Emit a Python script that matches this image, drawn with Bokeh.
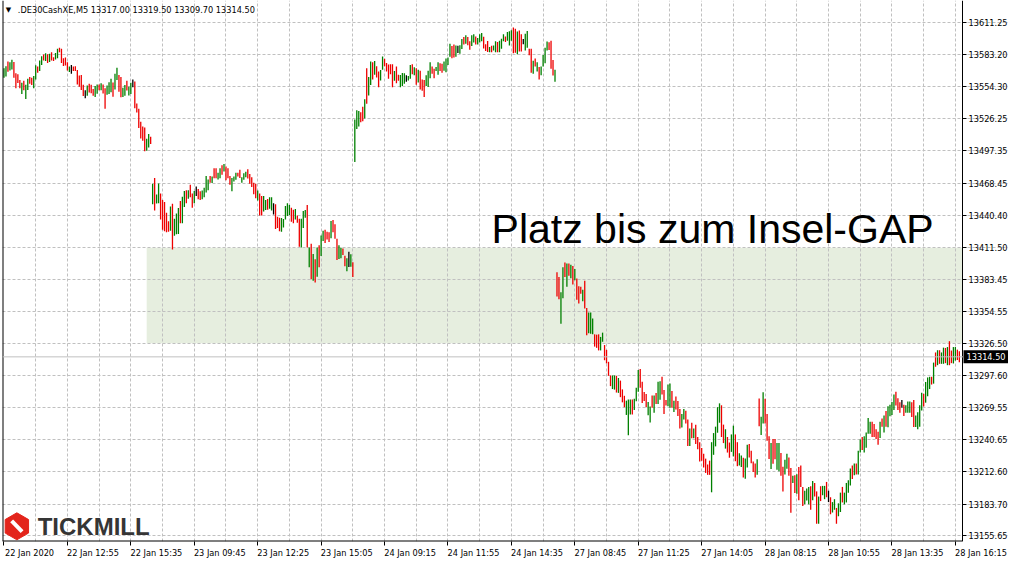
from bokeh.plotting import figure
from bokeh.models import (ColumnDataSource, Range1d, FixedTicker, Span, Label,
                          NumeralTickFormatter)
from bokeh.embed import file_html
from bokeh.resources import INLINE

# ---------------- data (M5 bars, DE30) ----------------
symbol_header = ".DE30CashXE,M5  13317.00 13319.50 13309.70 13314.50"
last_price = 13314.50
gap_low = 13326.50
gap_high = 13411.50
gap_start_bar = 72
annotation_text = "Platz bis zum Insel-GAP"

# bar direction: G = up, R = down, K = doji
dirs_22jan = ("GGRGGRRRRG" "RGGRRGGRGG" "RGRGRRGGRR" "RRRGKRRRRR" "RKGRRRGGRG"
              "RRGGGRGGRR" "GGRGGKRRRR" "RRGGR")
dirs_23jan = ("GRGGRRRRRG" "RGGGRGGRGR" "RGKRRGGGGR" "GRRGGRGRRR" "GGGRRGGGRR"
              "RRRGRRGGRG" "GKRRRGGGGG" "RRGRRGGGRG" "RGRGRGGRRR" "GRRRGGRRGK" "GR")
dirs_24jan = ("GGGRRGRGGR" "GRRGGRRRRR" "GRRGGGKGGR" "GRGRRRGGGR" "RGGRRGGGGR"
              "RGKGGRGRRG" "GRGGGRRRGR" "GGRGGGRGGG" "RRGRRKGGRR" "GRGRGGGGRR" "RG")
dirs_27jan = ("RRGGRGRGRG" "RRRGRRGGGR" "RRGGRRRRGG" "RGRRRGGGRG" "GGRRRRGGRG"
              "RGGRRRGGRG")
dirs_28jan = ("RRRGGRRGRG" "RRRRRRRRGG" "GGGRRGRRGG" "RRGGRGGRRR" "RGRGGRRRGR"
              "RGGRRGGRRG" "RGRRRGGGRG" "RRGRGGRKRG" "GRGGRGGGGR"
              "GRGGRGGGGR" "RRRGRGRGGG" "GRRRKRGGGR" "RGGGGRGGGR" "GRGRGGRGRR" "GGRR")

highs_22jan = [
    13570.9, 13572.6, 13576.9, 13576.1, 13578.4, 13576.4, 13566.3, 13565.4, 13560.5, 13557.9,
    13559.7, 13556.2, 13561.4, 13563.1, 13562.3, 13564.0, 13573.5, 13572.3, 13577.8, 13581.5,
    13583.0, 13584.1, 13583.3, 13583.8, 13585.0, 13580.7, 13584.4, 13588.2, 13589.0, 13588.2,
    13579.8, 13580.4, 13576.1, 13572.3, 13573.8, 13572.3, 13572.6, 13569.2, 13564.3, 13564.9,
    13556.2, 13551.3, 13555.4, 13557.1, 13556.2, 13552.5, 13555.1, 13556.5, 13556.5, 13557.4,
    13556.5, 13553.1, 13555.4, 13558.5, 13561.4, 13558.2, 13566.0, 13571.2, 13564.9, 13563.1,
    13553.6, 13555.9, 13559.7, 13554.5, 13558.0, 13560.8, 13559.1, 13539.5, 13534.9, 13523.4,
    13519.1, 13518.3, 13508.2, 13512.5, 13509.9]
lows_22jan = [
    13562.3, 13563.4, 13567.7, 13568.9, 13569.7, 13562.3, 13553.1, 13557.7, 13553.1, 13547.9,
    13551.3, 13543.6, 13551.6, 13557.1, 13555.9, 13553.1, 13560.8, 13566.9, 13568.3, 13573.8,
    13577.8, 13577.2, 13575.5, 13576.4, 13577.8, 13577.2, 13578.7, 13579.8, 13585.0, 13575.5,
    13572.9, 13573.2, 13568.9, 13567.4, 13566.0, 13568.3, 13568.3, 13556.5, 13554.5, 13551.6,
    13546.2, 13544.1, 13546.4, 13549.3, 13548.7, 13546.4, 13545.3, 13548.2, 13551.3, 13551.3,
    13548.5, 13534.9, 13547.3, 13547.9, 13549.6, 13545.6, 13551.9, 13560.3, 13549.9, 13545.0,
    13545.3, 13546.4, 13551.0, 13546.7, 13547.9, 13553.9, 13535.2, 13531.5, 13517.7, 13508.5,
    13506.5, 13497.0, 13497.6, 13500.4, 13503.6]

highs_23jan = [
    13468.3, 13473.4, 13458.8, 13468.5, 13459.6, 13453.9, 13452.1, 13442.4, 13434.9, 13448.1,
    13450.4, 13437.2, 13441.8, 13446.7, 13453.0, 13456.7, 13461.9, 13462.5, 13462.5, 13467.4,
    13459.6, 13461.9, 13465.7, 13463.6, 13461.6, 13462.2, 13464.8, 13475.1, 13472.0, 13475.1,
    13474.6, 13482.0, 13482.0, 13478.0, 13482.0, 13484.6, 13485.8, 13483.5, 13482.0, 13475.1,
    13473.4, 13474.6, 13478.0, 13478.0, 13480.6, 13474.0, 13477.5, 13478.9, 13481.2, 13476.9,
    13474.0, 13469.1, 13468.3, 13462.2, 13459.6, 13457.3, 13457.3, 13453.9, 13454.7, 13456.2,
    13456.2, 13451.0, 13450.1, 13438.9, 13438.1, 13437.8, 13436.9, 13448.4, 13451.0, 13449.3,
    13447.0, 13445.2, 13445.8, 13440.1, 13437.2, 13437.2, 13444.1, 13445.0, 13449.3, 13411.6,
    13415.0, 13405.8, 13401.2, 13411.6, 13413.6, 13422.2, 13426.5, 13427.4, 13425.7, 13425.1,
    13435.2, 13436.0, 13432.3, 13419.3, 13413.6, 13411.3, 13410.7, 13404.4, 13402.1, 13407.9,
    13405.6, 13398.6]
lows_23jan = [
    13450.1, 13444.4, 13450.7, 13451.0, 13436.6, 13427.4, 13426.0, 13425.1, 13425.7, 13426.6,
    13409.9, 13422.0, 13423.4, 13423.7, 13433.2, 13433.2, 13447.5, 13451.0, 13455.0, 13456.2,
    13446.9, 13451.0, 13457.3, 13454.4, 13453.9, 13454.4, 13456.2, 13460.5, 13462.5, 13469.1,
    13468.8, 13473.1, 13473.1, 13472.0, 13473.1, 13476.3, 13479.2, 13471.4, 13473.1, 13467.4,
    13461.6, 13470.2, 13471.7, 13474.6, 13473.4, 13469.1, 13471.7, 13474.0, 13472.9, 13468.3,
    13465.4, 13459.0, 13455.3, 13453.3, 13440.1, 13440.1, 13443.5, 13445.0, 13445.2, 13446.1,
    13444.4, 13440.9, 13428.0, 13428.9, 13426.0, 13425.7, 13429.4, 13436.6, 13439.5, 13440.4,
    13434.6, 13433.2, 13436.6, 13433.7, 13412.2, 13411.6, 13428.9, 13438.1, 13411.6, 13394.0,
    13383.4, 13382.0, 13380.5, 13385.7, 13394.0, 13404.1, 13417.3, 13415.6, 13418.8, 13416.5,
    13419.9, 13425.1, 13419.3, 13400.6, 13401.5, 13402.1, 13405.0, 13394.9, 13390.6, 13394.3,
    13394.6, 13385.4]

highs_24jan = [
    13525.2, 13533.5, 13532.9, 13531.8, 13536.7, 13543.3, 13570.9, 13563.1, 13576.9, 13576.1,
    13577.2, 13572.6, 13568.0, 13569.2, 13581.2, 13579.2, 13575.5, 13574.1, 13574.3, 13574.3,
    13568.3, 13572.3, 13565.1, 13564.9, 13566.6, 13566.3, 13564.6, 13564.0, 13573.8, 13574.3,
    13571.8, 13570.9, 13569.5, 13568.6, 13560.8, 13560.3, 13564.6, 13568.6, 13576.1, 13572.3,
    13570.3, 13572.0, 13576.1, 13575.2, 13574.9, 13576.9, 13579.5, 13580.4, 13592.5, 13590.5,
    13591.9, 13591.0, 13590.7, 13591.3, 13596.8, 13598.5, 13600.2, 13598.5, 13594.8, 13600.2,
    13601.1, 13599.1, 13597.6, 13601.1, 13602.2, 13598.8, 13592.2, 13595.1, 13589.6, 13590.7,
    13591.0, 13594.8, 13594.2, 13595.3, 13597.1, 13601.1, 13599.1, 13603.1, 13603.7, 13604.5,
    13607.1, 13606.0, 13603.4, 13604.3, 13601.1, 13596.8, 13601.4, 13604.0, 13588.2, 13588.2,
    13577.5, 13579.5, 13576.1, 13572.0, 13572.3, 13582.7, 13589.0, 13594.5, 13593.9, 13595.3,
    13578.1, 13569.5]
lows_24jan = [
    13487.5, 13516.8, 13519.1, 13522.9, 13523.7, 13526.3, 13539.3, 13546.7, 13555.9, 13560.8,
    13565.1, 13562.6, 13553.9, 13560.0, 13569.5, 13572.6, 13568.0, 13561.4, 13565.4, 13553.9,
    13559.7, 13557.4, 13559.7, 13553.9, 13555.1, 13557.1, 13558.8, 13560.0, 13561.4, 13565.4,
    13564.6, 13556.2, 13558.2, 13551.9, 13550.8, 13545.3, 13555.1, 13554.2, 13562.0, 13566.0,
    13562.0, 13568.3, 13565.1, 13568.3, 13566.9, 13568.6, 13567.2, 13573.8, 13581.0, 13579.8,
    13580.4, 13581.0, 13584.4, 13583.8, 13587.9, 13591.9, 13592.5, 13591.3, 13587.3, 13590.5,
    13593.6, 13591.9, 13591.9, 13593.6, 13594.8, 13588.4, 13586.1, 13585.3, 13585.0, 13585.0,
    13586.7, 13585.0, 13585.0, 13585.0, 13588.2, 13594.8, 13594.2, 13595.3, 13591.0, 13595.3,
    13584.1, 13584.7, 13583.3, 13585.6, 13585.6, 13592.2, 13586.7, 13589.0, 13582.4, 13566.9,
    13566.0, 13572.3, 13568.0, 13560.8, 13564.6, 13572.3, 13575.2, 13586.7, 13587.0, 13570.3,
    13564.3, 13558.8]

highs_27jan = [
    13389.7, 13385.4, 13371.9, 13394.1, 13398.4, 13397.5, 13397.5, 13396.4, 13395.2, 13392.6,
    13384.0, 13377.1, 13376.8, 13374.2, 13382.0, 13357.8, 13353.8, 13353.8, 13348.6, 13334.5,
    13334.2, 13334.5, 13332.2, 13336.0, 13325.0, 13320.7, 13310.1, 13298.0, 13298.0, 13298.0,
    13297.7, 13295.7, 13293.4, 13285.6, 13279.9, 13275.6, 13276.7, 13276.7, 13276.7, 13277.3,
    13287.1, 13302.9, 13303.8, 13292.3, 13283.3, 13281.6, 13274.4, 13270.4, 13280.2, 13280.2,
    13282.5, 13292.3, 13292.8, 13296.9, 13285.1, 13276.1, 13290.0, 13290.8, 13284.2, 13275.6]
lows_27jan = [
    13368.2, 13365.6, 13344.0, 13366.5, 13385.4, 13376.8, 13386.6, 13384.3, 13378.8, 13382.6,
    13365.3, 13361.9, 13370.5, 13363.9, 13357.5, 13333.7, 13335.4, 13335.1, 13334.5, 13323.6,
    13322.5, 13320.2, 13320.2, 13327.9, 13311.5, 13308.7, 13297.7, 13288.5, 13285.9, 13285.4,
    13282.8, 13282.5, 13278.7, 13274.1, 13269.8, 13262.9, 13244.8, 13263.2, 13263.2, 13267.2,
    13275.0, 13283.6, 13287.1, 13273.6, 13275.3, 13269.8, 13262.6, 13256.3, 13269.2, 13264.9,
    13272.7, 13272.7, 13276.4, 13281.0, 13263.8, 13271.3, 13270.7, 13269.2, 13269.2, 13265.5]

highs_28jan = [
    13279.3, 13275.3, 13268.1, 13263.7, 13268.1, 13266.6, 13258.9, 13250.8, 13256.0, 13250.8,
    13254.3, 13243.3, 13238.7, 13233.5, 13228.4, 13224.1, 13218.9, 13222.3, 13238.7, 13246.8,
    13252.5, 13269.8, 13273.2, 13271.5, 13254.3, 13250.2, 13243.3, 13238.4, 13245.6, 13253.4,
    13245.6, 13238.7, 13228.9, 13226.9, 13224.9, 13224.3, 13236.4, 13237.0, 13231.2, 13221.5,
    13219.7, 13223.5, 13277.6, 13261.2, 13283.0, 13277.3, 13263.7, 13243.9, 13237.9, 13241.6,
    13241.6, 13237.9, 13237.9, 13229.2, 13216.9, 13223.2, 13228.4, 13225.2, 13215.7, 13208.8,
    13209.4, 13210.3, 13216.6, 13218.0, 13198.8, 13195.6, 13197.6, 13199.0, 13199.6, 13204.2,
    13202.5, 13195.0, 13190.4, 13199.6, 13199.9, 13199.9, 13203.4, 13195.6, 13189.8, 13185.5,
    13188.1, 13180.3, 13184.4, 13193.9, 13199.0, 13193.9, 13202.5, 13204.8, 13215.4, 13218.0,
    13219.7, 13219.7, 13231.2, 13241.0, 13243.3, 13243.9, 13247.3, 13260.3, 13256.8, 13256.8,
    13254.8, 13250.2, 13247.9, 13256.8, 13259.7, 13262.3, 13266.3, 13270.6, 13272.0, 13274.3,
    13281.0, 13283.5, 13277.8, 13274.1, 13276.1, 13272.0, 13271.5, 13274.9, 13274.9, 13274.1,
    13276.1, 13262.3, 13265.4, 13271.5, 13282.7, 13281.8, 13292.2, 13296.2, 13296.8, 13296.8,
    13309.4, 13318.4, 13320.4, 13320.4, 13318.4, 13322.7, 13322.4, 13323.2, 13328.4, 13320.1,
    13323.2, 13323.2, 13320.9, 13319.5]
lows_28jan = [
    13267.8, 13262.0, 13250.8, 13251.7, 13258.9, 13255.4, 13235.3, 13235.3, 13242.2, 13242.2,
    13237.0, 13232.4, 13221.5, 13222.3, 13216.3, 13211.4, 13209.7, 13209.7, 13194.2, 13227.5,
    13235.0, 13247.1, 13256.0, 13243.3, 13237.9, 13233.0, 13229.5, 13224.9, 13230.1, 13226.1,
    13221.8, 13217.4, 13218.0, 13216.6, 13207.4, 13206.2, 13216.3, 13225.2, 13220.0, 13212.3,
    13207.4, 13209.7, 13252.8, 13245.1, 13255.4, 13255.4, 13239.9, 13223.8, 13214.9, 13219.5,
    13223.5, 13214.3, 13212.9, 13208.8, 13195.0, 13210.0, 13215.1, 13208.8, 13176.0, 13202.5,
    13193.6, 13193.0, 13187.2, 13198.8, 13182.1, 13183.5, 13187.0, 13183.5, 13178.6, 13187.2,
    13190.4, 13166.2, 13166.2, 13186.4, 13191.6, 13188.1, 13189.8, 13185.5, 13174.6, 13176.3,
    13178.6, 13166.2, 13172.9, 13176.6, 13185.2, 13183.5, 13185.2, 13193.9, 13200.2, 13205.9,
    13209.3, 13209.9, 13209.9, 13229.5, 13231.8, 13229.5, 13233.8, 13246.2, 13246.2, 13243.3,
    13243.3, 13241.6, 13236.4, 13242.4, 13252.5, 13247.3, 13252.5, 13251.9, 13261.7, 13262.8,
    13267.4, 13271.2, 13267.4, 13264.9, 13269.2, 13262.0, 13264.9, 13264.9, 13264.9, 13261.1,
    13252.2, 13252.2, 13250.2, 13252.5, 13266.9, 13270.3, 13273.8, 13279.5, 13285.9, 13289.9,
    13290.7, 13305.7, 13307.1, 13308.3, 13308.3, 13308.3, 13308.9, 13307.1, 13307.1, 13308.9,
    13308.6, 13311.2, 13311.7, 13309.7]

xtick_bars = [0, 32, 64, 96, 128, 160, 192, 224, 256, 288, 320, 352, 384, 416, 448, 480]
xtick_labels = ["22 Jan 2020", "22 Jan 12:55", "22 Jan 15:35", "23 Jan 09:45",
                "23 Jan 12:25", "23 Jan 15:05", "24 Jan 09:15", "24 Jan 11:55",
                "24 Jan 14:35", "27 Jan 08:45", "27 Jan 11:25", "27 Jan 14:05",
                "28 Jan 08:15", "28 Jan 10:55", "28 Jan 13:35", "28 Jan 16:15"]
ytick_values = [13155.65, 13183.70, 13212.60, 13240.65, 13269.55, 13297.60, 13326.50,
                13354.55, 13383.45, 13411.50, 13440.40, 13468.45, 13497.35, 13526.25,
                13554.30, 13583.20, 13611.25]
ytick_labels = ["13155.65", "13183.70", "13212.60", "13240.65", "13269.55", "13297.60",
                "13326.50", "13354.55", "13383.45", "13411.50", "13440.40", "13468.45",
                "13497.35", "13526.25", "13554.30", "13583.20", "13611.25"]

# ---------------- assemble ----------------
highs = highs_22jan + highs_23jan + highs_24jan + highs_27jan + highs_28jan
lows = lows_22jan + lows_23jan + lows_24jan + lows_27jan + lows_28jan
dirs = dirs_22jan + dirs_23jan + dirs_24jan + dirs_27jan + dirs_28jan
n = min(len(highs), len(lows), len(dirs))
color_map = {"G": "#008000", "R": "#ee0000", "K": "#000000"}
src = ColumnDataSource(dict(
    bar=list(range(n)), high=highs[:n], low=lows[:n],
    color=[color_map[d] for d in dirs[:n]]))

FONT = "DejaVu Sans"
X0, X_AXIS, X1 = -0.75, 483.6, 506.8      # chart area ends at X_AXIS (price scale to its right)
Y0, Y1 = 13150.5, 13631.0
p = figure(width=1008, height=560, output_backend="svg", toolbar_location=None,
           x_range=Range1d(X0, X1), y_range=Range1d(Y0, Y1),
           y_axis_location="right", min_border_left=2, min_border_top=0,
           min_border_right=0, min_border_bottom=16)
p.outline_line_color = None
p.background_fill_color = "white"
p.border_fill_color = "white"

# gap zone (below grid)
p.quad(left=gap_start_bar, right=X_AXIS, bottom=gap_low, top=gap_high,
       fill_color="#e6eedf", line_color=None, level="image")

# grid
p.xgrid.ticker = FixedTicker(ticks=[b for b in range(16, 484, 16)])
p.xgrid.grid_line_color = "#c0c0c0"
p.xgrid.grid_line_dash = "3 2"
p.ygrid.ticker = FixedTicker(ticks=ytick_values)
p.ygrid.grid_line_color = "#c0c0c0"
p.ygrid.grid_line_dash = "3 2"

# blank price-scale strip (hides the grid right of the chart area)
p.quad(left=X_AXIS, right=X1, bottom=Y0, top=Y1, fill_color="white",
       line_color=None, level="underlay")

# x axis: MT4 labels start at their tick -> label anchors shifted right,
# tick marks drawn as minor ticks at the bar positions
LABEL_SHIFT = 12.9
anchors = [b + LABEL_SHIFT for b in xtick_bars]
xa = p.xaxis[0]
xa.ticker = FixedTicker(ticks=anchors, minor_ticks=xtick_bars)
xa.major_label_overrides = {a: t for a, t in zip(anchors, xtick_labels)}
xa.major_tick_line_color = None
xa.major_tick_out = 4
xa.major_tick_in = 0
xa.minor_tick_line_color = "black"
xa.minor_tick_out = 4
xa.minor_tick_in = 0
xa.axis_line_color = None
xa.major_label_text_font = FONT
xa.major_label_text_font_size = "8.2px"
xa.major_label_text_color = "black"
xa.major_label_standoff = 2

# y axis drawn at the right edge of the chart area
ya = p.yaxis[0]
ya.fixed_location = X_AXIS
ya.ticker = FixedTicker(ticks=ytick_values)
ya.formatter = NumeralTickFormatter(format="0.00")
ya.major_label_overrides = {v: t for v, t in zip(ytick_values, ytick_labels)}
ya.major_tick_out = 4
ya.major_tick_in = 0
ya.minor_tick_line_color = None
ya.axis_line_color = "black"
ya.major_tick_line_color = "black"
ya.major_label_text_font = FONT
ya.major_label_text_font_size = "8.2px"
ya.major_label_text_color = "black"
ya.major_label_standoff = 2

# left and bottom borders
p.add_layout(Span(location=X0, dimension="height", line_color="black", line_width=2))
p.segment(x0=[X0], y0=[Y0], x1=[X_AXIS], y1=[Y0], line_color="black", line_width=2)

# current price line
p.add_layout(Span(location=last_price, dimension="width", line_color="#c0c0c0",
                  line_width=1))

# bars
p.segment(x0="bar", y0="low", x1="bar", y1="high", line_color="color",
          line_width=1.3, source=src)

# current price box on the price scale
p.add_layout(Label(x=X_AXIS, y=last_price, text=f"{last_price:.2f}", text_color="white",
                   text_font=FONT, text_font_size="8.2px", text_baseline="middle",
                   text_align="left", background_fill_color="black", padding=3,
                   x_offset=1))

# header
p.add_layout(Label(x=2.3, y=13622.2, text="\u25BC", text_color="black", text_font=FONT,
                   text_font_size="7px", text_baseline="middle", text_align="center"))
p.add_layout(Label(x=7.0, y=13622.2, text=symbol_header, text_color="black",
                   text_font=FONT, text_font_size="8.2px", text_baseline="middle",
                   text_align="left"))

# annotation
p.add_layout(Label(x=246, y=13427.7, text=annotation_text, text_color="black",
                   text_font="Liberation Sans", text_font_size="41px",
                   text_baseline="middle", text_align="left"))

# logo
p.scatter(x=[6.5], y=[13164.0], marker="hex", size=27, fill_color="#e3241b",
          line_color="#e3241b", angle=1.5708)
p.scatter(x=[6.5], y=[13164.0], marker="dash", size=15, line_color="white",
          line_width=4, angle=-0.8)
p.add_layout(Label(x=17, y=13163.5, text="TICKMILL", text_color="#353535",
                   text_font="Liberation Sans", text_font_style="bold",
                   text_font_size="24px", text_baseline="middle",
                   text_align="left"))

open("out.html", "w").write(file_html(p, INLINE))
